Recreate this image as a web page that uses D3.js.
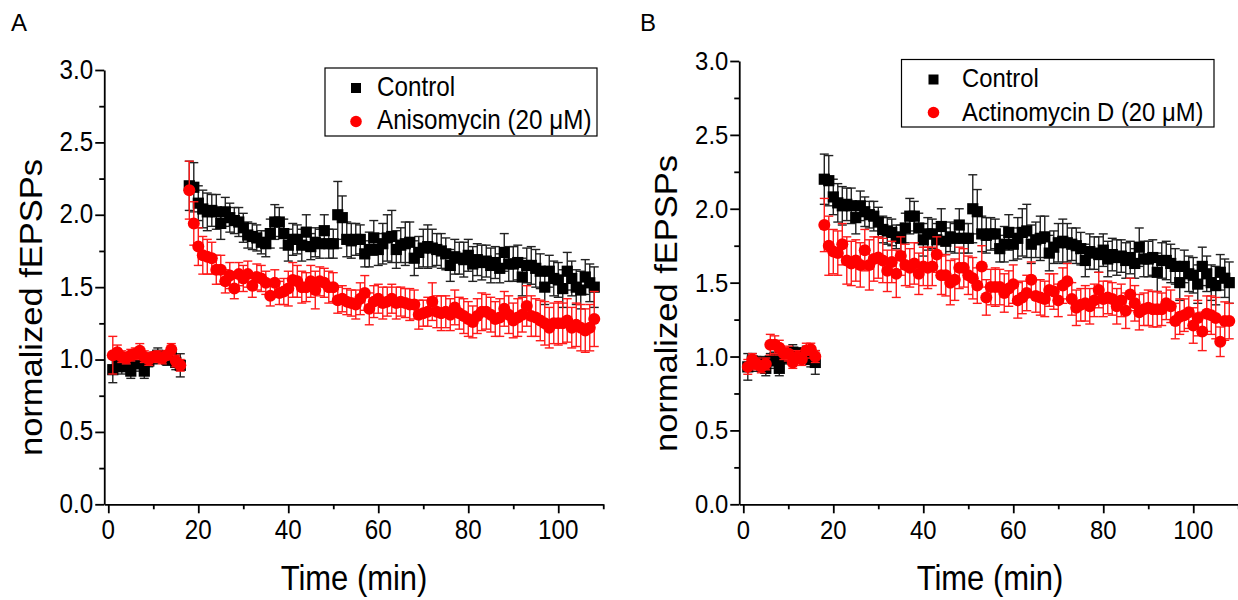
<!DOCTYPE html>
<html>
<head>
<meta charset="utf-8">
<script src="https://cdn.jsdelivr.net/npm/d3@7"></script>
<style>
body { margin: 0; background: #fff; }
text { font-family: Arial, "Liberation Sans", sans-serif; fill: #000; }
</style>
</head>
<body>
<div id="chart"></div>
<script>
// minutes of recording
var baseTimes = d3.range(1, 17);
var postTimes = d3.range(18, 109);

var xTickLabels = [0, 20, 40, 60, 80, 100];
var xMinorTicks = [10, 30, 50, 70, 90, 110];
var yTickLabels = [0, 0.5, 1, 1.5, 2, 2.5, 3];
var yMinorTicks = [0.25, 0.75, 1.25, 1.75, 2.25, 2.75];

// control (same group in both panels)
var controlBase = [0.93, 0.97, 0.95, 0.96, 0.92, 0.97, 0.99, 0.92, 0.99, 1.01, 1.03, 1.02, 1.00, 1.02, 0.98, 0.96];
var controlBaseErr = [0.09, 0.05, 0.05, 0.04, 0.05, 0.05, 0.04, 0.05, 0.04, 0.04, 0.05, 0.04, 0.04, 0.05, 0.05, 0.08];
var controlPost = [2.20, 2.19, 2.08, 2.04, 2.02, 2.03, 2.02, 1.94, 2.02, 1.98,
                   1.96, 1.95, 1.91, 1.86, 1.85, 1.84, 1.81, 1.80, 1.87, 1.95,
                   1.95, 1.87, 1.79, 1.83, 1.83, 1.79, 1.88, 1.78, 1.81, 1.80,
                   1.89, 1.80, 1.80, 2.00, 1.98, 1.83, 1.82, 1.83, 1.83, 1.73,
                   1.76, 1.84, 1.76, 1.80, 1.84, 1.85, 1.76, 1.79, 1.80, 1.81,
                   1.70, 1.74, 1.77, 1.78, 1.77, 1.76, 1.75, 1.73, 1.65, 1.71,
                   1.70, 1.69, 1.72, 1.66, 1.69, 1.67, 1.68, 1.65, 1.67, 1.63,
                   1.74, 1.66, 1.66, 1.67, 1.57, 1.65, 1.65, 1.63, 1.61, 1.50,
                   1.61, 1.56, 1.55, 1.49, 1.61, 1.56, 1.50, 1.48, 1.57, 1.53, 1.50];
var controlPostErr = [0.17, 0.17, 0.12, 0.13, 0.13, 0.11, 0.12, 0.11, 0.10, 0.10,
                      0.09, 0.10, 0.10, 0.09, 0.09, 0.09, 0.08, 0.09, 0.10, 0.12,
                      0.10, 0.10, 0.11, 0.11, 0.10, 0.11, 0.12, 0.09, 0.10, 0.10,
                      0.11, 0.10, 0.10, 0.23, 0.15, 0.12, 0.12, 0.11, 0.10, 0.09,
                      0.12, 0.12, 0.11, 0.14, 0.16, 0.18, 0.13, 0.12, 0.15, 0.14,
                      0.12, 0.11, 0.13, 0.15, 0.13, 0.11, 0.12, 0.11, 0.11, 0.12,
                      0.11, 0.12, 0.11, 0.12, 0.11, 0.12, 0.11, 0.12, 0.11, 0.10,
                      0.13, 0.12, 0.12, 0.12, 0.13, 0.12, 0.13, 0.13, 0.12, 0.12,
                      0.11, 0.12, 0.12, 0.13, 0.13, 0.12, 0.12, 0.13, 0.12, 0.13, 0.14];

// anisomycin (panel A)
var anisoBase = [1.03, 1.05, 1.02, 1.01, 1.03, 1.04, 1.06, 1.02, 1.00, 1.02, 1.02, 1.01, 1.03, 1.07, 0.99, 0.96];
var anisoBaseErr = [0.13, 0.05, 0.04, 0.04, 0.04, 0.04, 0.05, 0.04, 0.04, 0.03, 0.04, 0.04, 0.03, 0.04, 0.04, 0.04];
var anisoPost = [2.17, 1.94, 1.78, 1.72, 1.71, 1.70, 1.62, 1.62, 1.54, 1.58,
                 1.49, 1.59, 1.56, 1.59, 1.51, 1.57, 1.56, 1.53, 1.44, 1.53,
                 1.46, 1.47, 1.49, 1.55, 1.54, 1.50, 1.50, 1.54, 1.48, 1.54,
                 1.53, 1.50, 1.50, 1.41, 1.42, 1.40, 1.39, 1.38, 1.42, 1.46,
                 1.35, 1.40, 1.42, 1.39, 1.40, 1.42, 1.39, 1.40, 1.39, 1.38,
                 1.38, 1.31, 1.32, 1.33, 1.40, 1.33, 1.32, 1.33, 1.31, 1.36,
                 1.32, 1.30, 1.28, 1.26, 1.30, 1.33, 1.33, 1.31, 1.28, 1.29,
                 1.35, 1.31, 1.27, 1.29, 1.31, 1.37, 1.30, 1.29, 1.27, 1.25,
                 1.22, 1.25, 1.25, 1.25, 1.27, 1.22, 1.24, 1.22, 1.20, 1.22, 1.28];
var anisoPostErr = [0.20, 0.15, 0.13, 0.13, 0.12, 0.11, 0.10, 0.10, 0.08, 0.09,
                    0.07, 0.08, 0.09, 0.09, 0.08, 0.09, 0.09, 0.08, 0.07, 0.09,
                    0.08, 0.09, 0.12, 0.12, 0.11, 0.11, 0.10, 0.11, 0.13, 0.10,
                    0.10, 0.11, 0.10, 0.09, 0.09, 0.09, 0.09, 0.10, 0.11, 0.12,
                    0.11, 0.11, 0.10, 0.11, 0.10, 0.10, 0.11, 0.10, 0.10, 0.11,
                    0.10, 0.10, 0.09, 0.10, 0.13, 0.11, 0.12, 0.11, 0.11, 0.12,
                    0.11, 0.12, 0.12, 0.11, 0.12, 0.13, 0.12, 0.12, 0.12, 0.13,
                    0.12, 0.13, 0.12, 0.13, 0.12, 0.14, 0.14, 0.13, 0.14, 0.15,
                    0.14, 0.14, 0.15, 0.14, 0.15, 0.14, 0.15, 0.16, 0.15, 0.16, 0.19];

// actinomycin D (panel B)
var actinoBase = [0.93, 0.98, 0.95, 0.93, 0.95, 1.08, 1.08, 1.06, 1.02, 1.02, 0.96, 1.00, 0.98, 1.04, 1.05, 1.00];
var actinoBaseErr = [0.05, 0.04, 0.04, 0.04, 0.04, 0.07, 0.06, 0.05, 0.04, 0.05, 0.04, 0.04, 0.04, 0.05, 0.04, 0.04];
var actinoPost = [1.89, 1.75, 1.71, 1.70, 1.76, 1.65, 1.63, 1.65, 1.62, 1.72,
                  1.62, 1.66, 1.67, 1.65, 1.58, 1.64, 1.56, 1.68, 1.62, 1.60,
                  1.63, 1.56, 1.61, 1.60, 1.61, 1.69, 1.55, 1.55, 1.50, 1.52,
                  1.60, 1.60, 1.55, 1.53, 1.48, 1.61, 1.40, 1.47, 1.47, 1.47,
                  1.43, 1.46, 1.49, 1.38, 1.40, 1.43, 1.52, 1.41, 1.40, 1.39,
                  1.45, 1.44, 1.38, 1.48, 1.51, 1.39, 1.33, 1.35, 1.36, 1.34,
                  1.38, 1.45, 1.39, 1.40, 1.39, 1.34, 1.38, 1.31, 1.42, 1.36,
                  1.30, 1.32, 1.33, 1.32, 1.32, 1.32, 1.36, 1.34, 1.24, 1.27,
                  1.28, 1.30, 1.21, 1.26, 1.17, 1.29, 1.28, 1.26, 1.10, 1.24, 1.24];
var actinoPostErr = [0.18, 0.20, 0.15, 0.15, 0.14, 0.16, 0.15, 0.14, 0.15, 0.14,
                     0.17, 0.15, 0.14, 0.15, 0.14, 0.14, 0.16, 0.13, 0.14, 0.13,
                     0.14, 0.14, 0.13, 0.14, 0.13, 0.12, 0.13, 0.14, 0.15, 0.14,
                     0.14, 0.13, 0.13, 0.14, 0.12, 0.14, 0.12, 0.12, 0.13, 0.12,
                     0.13, 0.12, 0.13, 0.12, 0.11, 0.12, 0.12, 0.11, 0.12, 0.12,
                     0.11, 0.12, 0.11, 0.12, 0.12, 0.11, 0.12, 0.11, 0.12, 0.12,
                     0.11, 0.12, 0.12, 0.11, 0.11, 0.12, 0.11, 0.12, 0.11, 0.12,
                     0.12, 0.11, 0.12, 0.12, 0.12, 0.11, 0.11, 0.11, 0.12, 0.12,
                     0.11, 0.11, 0.12, 0.12, 0.13, 0.12, 0.13, 0.14, 0.10, 0.13, 0.12];

var svg = d3.select("#chart").append("svg")
            .attr("width", 1238)
            .attr("height", 600);

function pts(base, baseErr, post, postErr) {
  var out = [];
  baseTimes.forEach(function(t, i) { out.push({t: t, v: base[i], e: baseErr[i]}); });
  postTimes.forEach(function(t, i) { out.push({t: t, v: post[i], e: postErr[i]}); });
  return out;
}

// horizontally squeezed text, like the exported figure
function label(g, x, y, str, size, sx, anchor) {
  g.append("text")
   .attr("transform", "translate(" + x + "," + y + ") scale(" + sx + ",1)")
   .attr("text-anchor", anchor)
   .style("font-size", size + "px")
   .text(str);
}

function drawPanel(p) {
  var g = svg.append("g");

  var x = d3.scaleLinear().domain([-0.9, 110]).range([p.x0, p.x0 + 499]);
  var y = d3.scaleLinear().domain([0, 3]).range([504.3, p.yTop]);
  var ax = x(-0.9);

  // axes
  g.append("g")
   .attr("transform", "translate(0,504.3)")
   .call(d3.axisBottom(x).tickValues(xTickLabels).tickSize(9).tickSizeOuter(0).tickFormat(""));
  g.append("g")
   .attr("transform", "translate(0,504.3)")
   .call(d3.axisBottom(x).tickValues(xMinorTicks).tickSize(5).tickSizeOuter(0).tickFormat(""))
   .select(".domain").remove();
  g.append("g")
   .attr("transform", "translate(" + ax + ",0)")
   .call(d3.axisLeft(y).tickValues(yTickLabels).tickSize(9).tickSizeOuter(0).tickFormat(""));
  g.append("g")
   .attr("transform", "translate(" + ax + ",0)")
   .call(d3.axisLeft(y).tickValues(yMinorTicks).tickSize(5).tickSizeOuter(0).tickFormat(""))
   .select(".domain").remove();
  g.selectAll(".domain, .tick line").attr("stroke", "#000").attr("stroke-width", 1.8);

  xTickLabels.forEach(function(d) {
    label(g, x(d), 538.5, d, p.tickSize, p.tickSx, "middle");
  });
  yTickLabels.forEach(function(d) {
    label(g, ax - 11, y(d) + p.tickDy, d3.format(".1f")(d), p.tickSize, p.tickSx, "end");
  });

  // axis titles
  label(g, p.xTitleX, 590, "Time (min)", 35, 0.885, "middle");
  g.append("text")
   .attr("transform", "translate(" + p.yTitleX + "," + p.yTitleY + ") rotate(-90) scale(1,0.93)")
   .attr("text-anchor", "middle")
   .style("font-size", "34.5px")
   .text("normalized fEPSPs");

  g.append("text")
   .attr("x", p.letterX)
   .attr("y", 31)
   .style("font-size", "24px")
   .text(p.letter);

  // series: control first, drug on top
  var series = [
    {data: pts(controlBase, controlBaseErr, controlPost, controlPostErr), color: "#000", bar: "#222", shape: "square"},
    {data: pts(p.base, p.baseErr, p.post, p.postErr), color: "#ff0000", bar: "#ff1a1a", shape: "circle"}
  ];

  series.forEach(function(s) {
    var eb = g.append("g");
    eb.selectAll(".stem").data(s.data).enter().append("line")
      .attr("x1", function(d) { return x(d.t); })
      .attr("x2", function(d) { return x(d.t); })
      .attr("y1", function(d) { return y(d.v - d.e); })
      .attr("y2", function(d) { return y(d.v + d.e); })
      .attr("stroke", s.bar)
      .attr("stroke-width", 1.4);
    [-1, 1].forEach(function(sign) {
      eb.selectAll(".cap" + sign).data(s.data).enter().append("line")
        .attr("x1", function(d) { return x(d.t) - 4.5; })
        .attr("x2", function(d) { return x(d.t) + 4.5; })
        .attr("y1", function(d) { return y(d.v + sign * d.e); })
        .attr("y2", function(d) { return y(d.v + sign * d.e); })
        .attr("stroke", s.bar)
        .attr("stroke-width", 1.4);
    });
    if (s.shape == "square") {
      g.append("g").selectAll("rect").data(s.data).enter().append("rect")
        .attr("x", function(d) { return x(d.t) - 5.6; })
        .attr("y", function(d) { return y(d.v) - 5.6; })
        .attr("width", 11.2)
        .attr("height", 11.2)
        .attr("fill", s.color);
    } else {
      g.append("g").selectAll("circle").data(s.data).enter().append("circle")
        .attr("cx", function(d) { return x(d.t); })
        .attr("cy", function(d) { return y(d.v); })
        .attr("r", 6)
        .attr("fill", s.color);
    }
  });

  // legend
  var L = p.legend;
  g.append("rect")
   .attr("x", L.x).attr("y", L.y)
   .attr("width", L.w).attr("height", L.h)
   .attr("fill", "#fff")
   .attr("stroke", "#000")
   .attr("stroke-width", 1.2);
  g.append("rect")
   .attr("x", L.mx - 5).attr("y", L.r1 - 5)
   .attr("width", 10).attr("height", 10)
   .attr("fill", "#000");
  g.append("circle")
   .attr("cx", L.mx).attr("cy", L.r2)
   .attr("r", 5.8)
   .attr("fill", "#ff0000");
  label(g, L.tx, L.b1, "Control", p.tickSize, p.tickSx, "start");
  label(g, L.tx, L.b2, p.drug, p.tickSize, p.tickSx, "start");
}

drawPanel({
  letter: "A", letterX: 11, x0: 104.25, yTop: 70,
  tickSize: 28.5, tickSx: 0.85, tickDy: 8.5,
  xTitleX: 354, yTitleX: 41.5, yTitleY: 307.5,
  base: anisoBase, baseErr: anisoBaseErr, post: anisoPost, postErr: anisoPostErr,
  drug: "Anisomycin (20 \u03bcM)",
  legend: {x: 325, y: 68, w: 272, h: 68, mx: 356, r1: 88, r2: 121.5, tx: 377, b1: 96, b2: 129}
});

drawPanel({
  letter: "B", letterX: 640, x0: 739.25, yTop: 61,
  tickSize: 26.5, tickSx: 0.9, tickDy: 9,
  xTitleX: 990, yTitleX: 677, yTitleY: 303.5,
  base: actinoBase, baseErr: actinoBaseErr, post: actinoPost, postErr: actinoPostErr,
  drug: "Actinomycin D (20 \u03bcM)",
  legend: {x: 901.5, y: 59.5, w: 312.5, h: 67.5, mx: 933.5, r1: 79.5, r2: 112.5, tx: 962, b1: 86.5, b2: 120.5}
});
</script>
</body>
</html>
